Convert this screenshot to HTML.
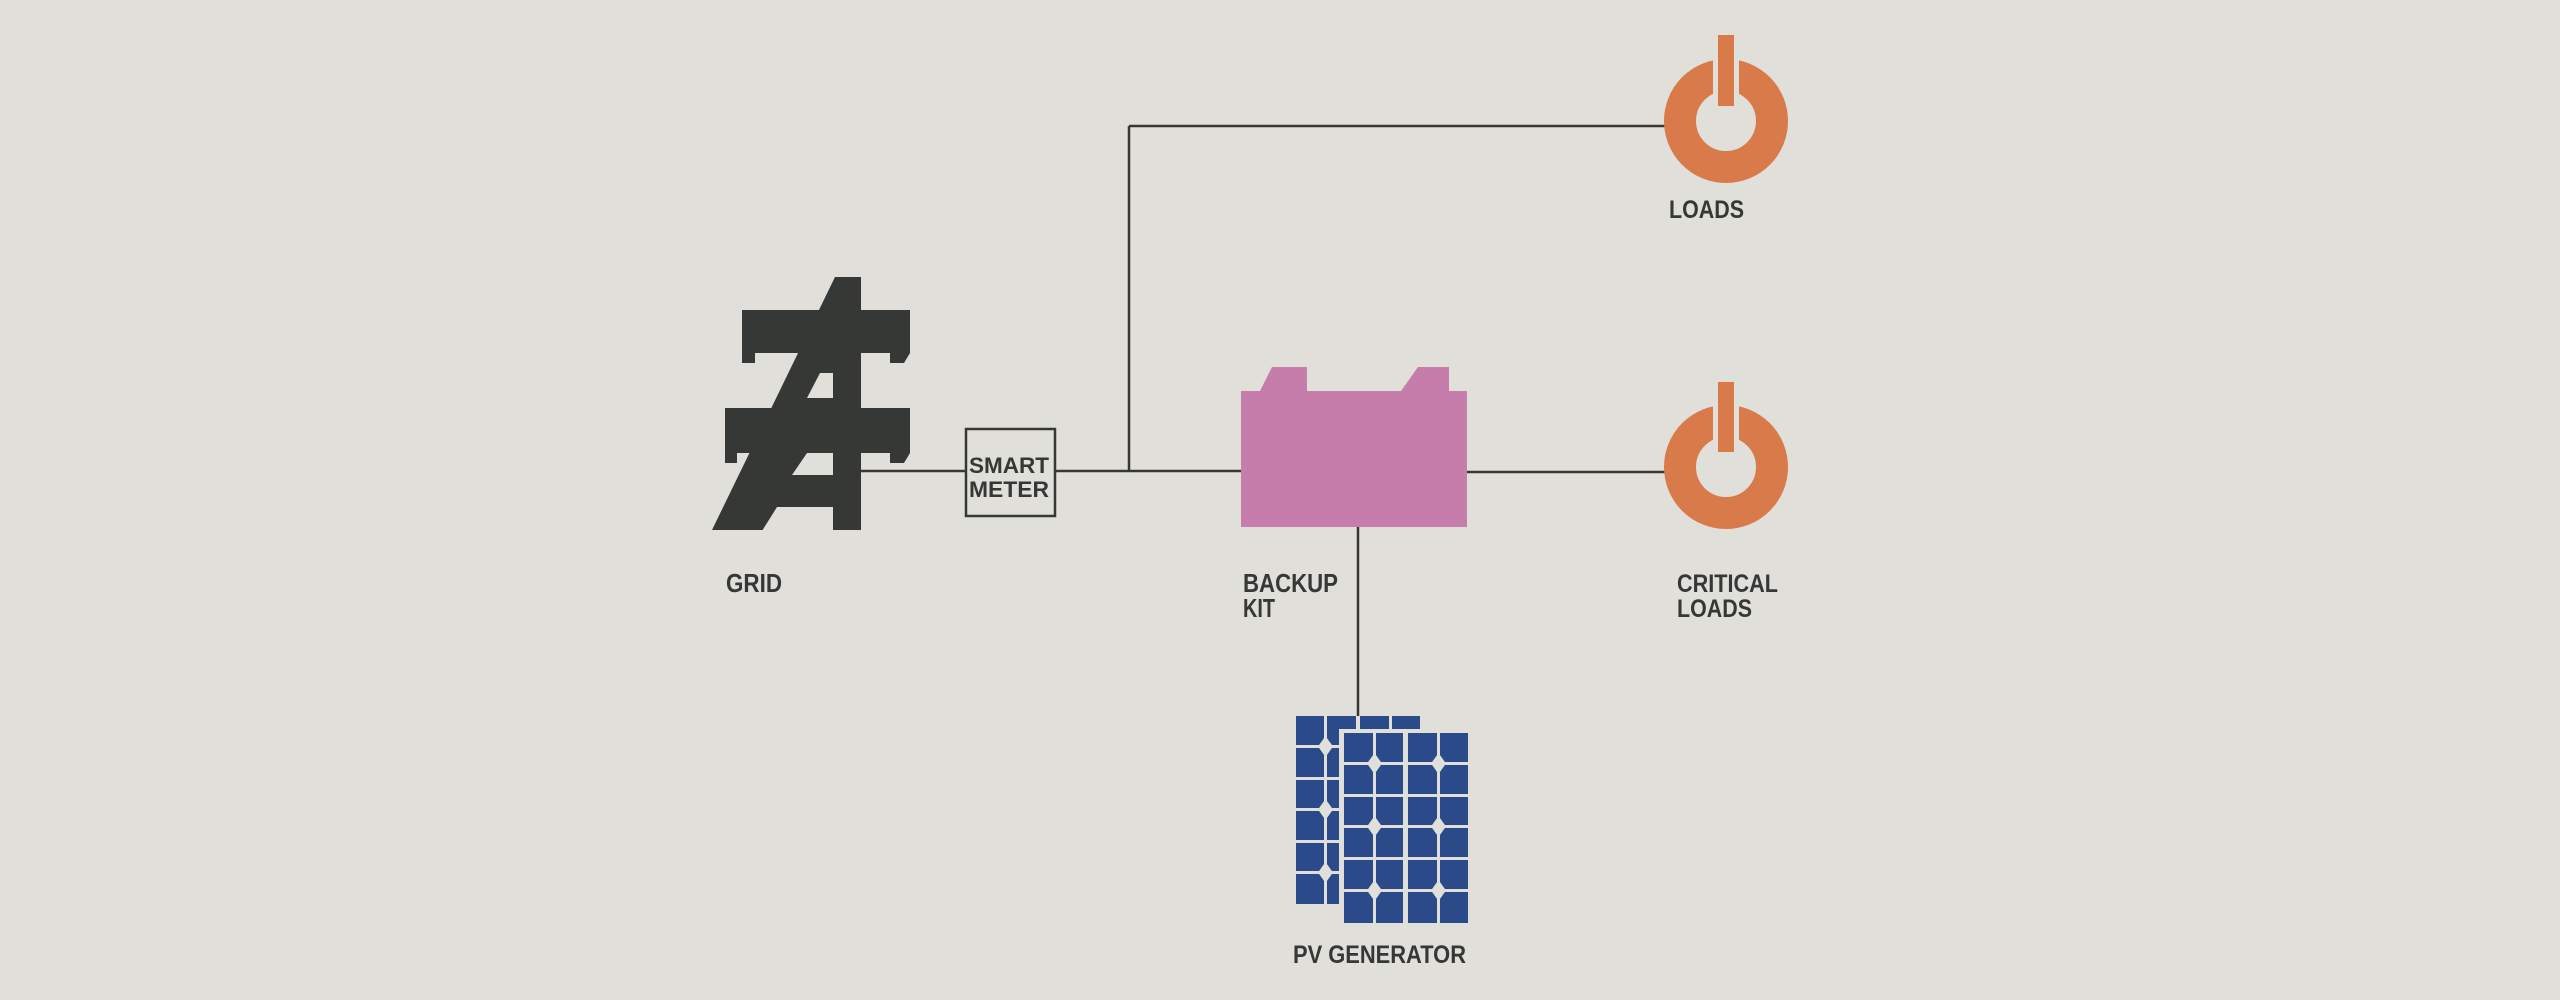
<!DOCTYPE html>
<html><head><style>
html,body{margin:0;padding:0;background:#e0dfda;}
svg{display:block;}
text{font-family:"Liberation Sans",sans-serif;font-weight:bold;fill:#363835;}
</style></head><body>
<svg width="2560" height="1000" viewBox="0 0 2560 1000" xmlns="http://www.w3.org/2000/svg">
<rect width="2560" height="1000" fill="#e0dfda"/>
<!-- connectors -->
<g stroke="#363835" stroke-width="2.5" fill="none">
<line x1="858" y1="471" x2="966" y2="471"/>
<line x1="1055" y1="471" x2="1242" y2="471"/>
<line x1="1129" y1="471" x2="1129" y2="126"/>
<line x1="1129" y1="126" x2="1665" y2="126"/>
<line x1="1466" y1="472" x2="1665" y2="472"/>
<line x1="1358" y1="527" x2="1358" y2="716"/>
</g>
<!-- grid tower -->
<g fill="#363835">
<polygon points="712,530 835,277 861,277 861,530"/>
<polygon points="742,310 910,310 910,353 904,363 890,363 890,353 755,353 755,363 742,363"/>
<polygon points="725,408 910,408 910,453 904,463 890,463 890,453 737,453 737,463 725,463"/>
</g>
<g fill="#e0dfda">
<polygon points="820,373 833,373 833,398 807,398"/>
<polygon points="807,453 833,453 833,475 792,475"/>
<polygon points="777,507 833,507 833,531 762,531"/>
</g>
<!-- smart meter -->
<rect x="966" y="429" width="89" height="87" fill="none" stroke="#363835" stroke-width="2.5"/>
<text x="969" y="473" font-size="22" textLength="80" lengthAdjust="spacingAndGlyphs">SMART</text>
<text x="969" y="497" font-size="22" textLength="80" lengthAdjust="spacingAndGlyphs">METER</text>
<!-- battery -->
<polygon fill="#c77dac" points="1241,391 1260,391 1272,367 1307,367 1307,391 1401,391 1418,367 1449,367 1449,391 1467,391 1467,527 1241,527"/>
<!-- loads -->
<g>
<circle cx="1726" cy="121" r="46" fill="none" stroke="#d97a4a" stroke-width="32"/>
<rect x="1713" y="50" width="26" height="50" fill="#e0dfda"/>
<rect x="1718" y="35" width="16" height="71" fill="#d97a4a"/>
</g>
<g>
<circle cx="1726" cy="467" r="46" fill="none" stroke="#d97a4a" stroke-width="32"/>
<rect x="1713" y="396" width="26" height="50" fill="#e0dfda"/>
<rect x="1718" y="382" width="16" height="70" fill="#d97a4a"/>
</g>
<!-- PV back panel -->
<rect x="1296" y="716" width="124" height="188" fill="#2b4a8a"/>
<g fill="#e0dfda">
<rect x="1296" y="745" width="124" height="3"/>
<rect x="1296" y="777" width="124" height="3"/>
<rect x="1296" y="808" width="124" height="3"/>
<rect x="1296" y="840" width="124" height="3"/>
<rect x="1296" y="871" width="124" height="3"/>
<rect x="1324" y="716" width="3" height="188"/>
<rect x="1356" y="716" width="4" height="188"/>
<rect x="1389" y="716" width="3" height="188"/>
<polygon points="1325.5,736 1333,746.5 1325.5,757 1318,746.5"/>
<polygon points="1325.5,799 1333,809.5 1325.5,820 1318,809.5"/>
<polygon points="1325.5,862 1333,872.5 1325.5,883 1318,872.5"/>
</g>
<!-- PV front panel -->
<rect x="1339" y="729" width="133" height="198" fill="#e0dfda"/>
<rect x="1344" y="733" width="124" height="190" fill="#2b4a8a"/>
<g fill="#e0dfda">
<rect x="1344" y="762" width="124" height="3"/>
<rect x="1344" y="794" width="124" height="3"/>
<rect x="1344" y="825" width="124" height="3"/>
<rect x="1344" y="857" width="124" height="3"/>
<rect x="1344" y="889" width="124" height="3"/>
<rect x="1373" y="733" width="3" height="190"/>
<rect x="1403" y="733" width="5" height="190"/>
<rect x="1437" y="733" width="3" height="190"/>
<polygon points="1374.5,753 1382,763.5 1374.5,774 1367,763.5"/>
<polygon points="1438.5,753 1446,763.5 1438.5,774 1431,763.5"/>
<polygon points="1374.5,816 1382,826.5 1374.5,837 1367,826.5"/>
<polygon points="1438.5,816 1446,826.5 1438.5,837 1431,826.5"/>
<polygon points="1374.5,880 1382,890.5 1374.5,901 1367,890.5"/>
<polygon points="1438.5,880 1446,890.5 1438.5,901 1431,890.5"/>
</g>
<!-- labels -->
<text x="726" y="592" font-size="26" textLength="56" lengthAdjust="spacingAndGlyphs">GRID</text>
<text x="1243" y="592" font-size="26" textLength="95" lengthAdjust="spacingAndGlyphs">BACKUP</text>
<text x="1243" y="617" font-size="26" textLength="32" lengthAdjust="spacingAndGlyphs">KIT</text>
<text x="1669" y="218" font-size="25" textLength="75" lengthAdjust="spacingAndGlyphs">LOADS</text>
<text x="1677" y="592" font-size="25" textLength="101" lengthAdjust="spacingAndGlyphs">CRITICAL</text>
<text x="1677" y="617" font-size="25" textLength="75" lengthAdjust="spacingAndGlyphs">LOADS</text>
<text x="1293" y="963" font-size="25" textLength="173" lengthAdjust="spacingAndGlyphs">PV GENERATOR</text>
</svg>
</body></html>
